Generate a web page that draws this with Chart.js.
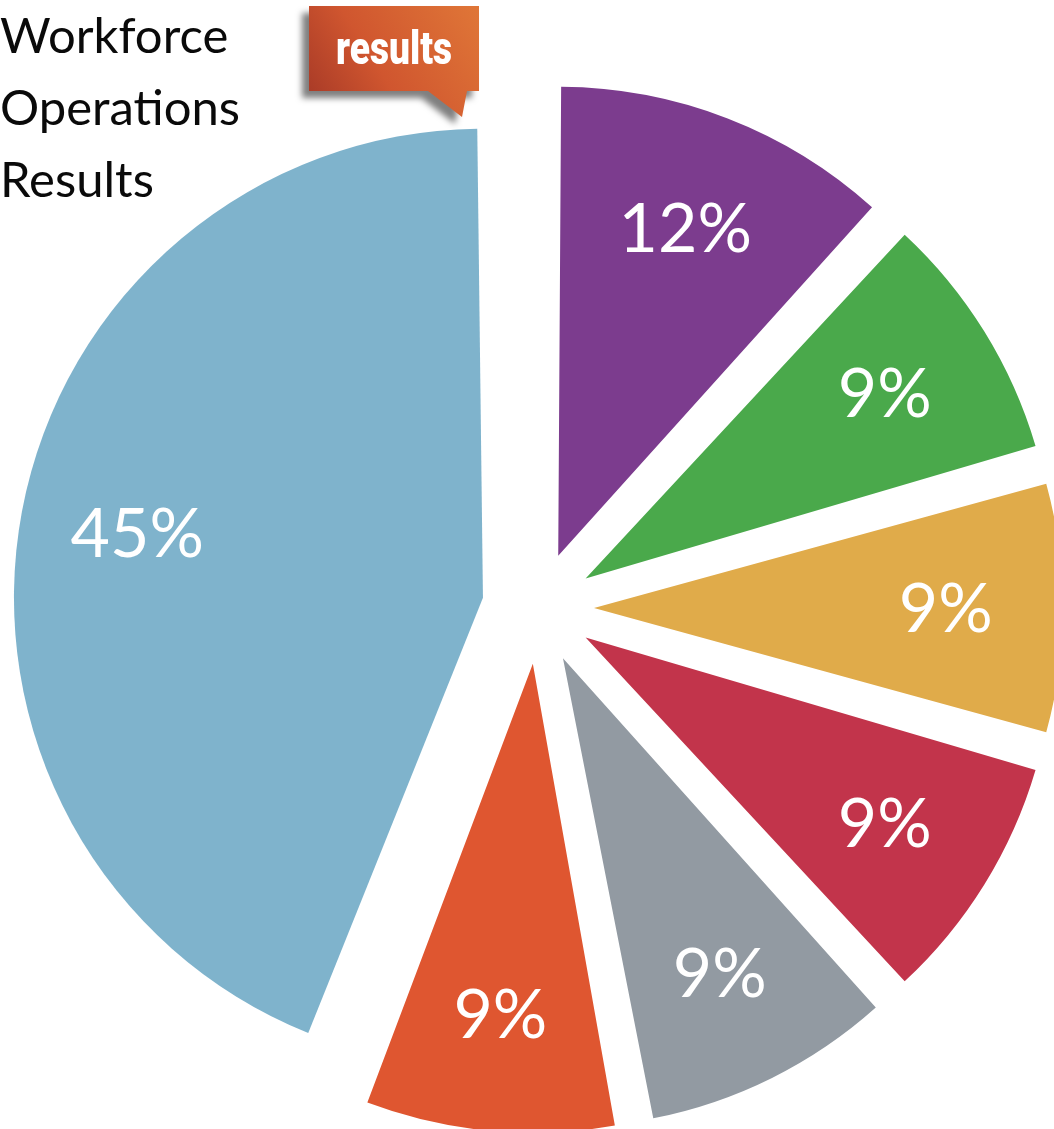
<!DOCTYPE html>
<html><head><meta charset="utf-8">
<script src="https://cdn.jsdelivr.net/npm/chart.js@4.4.1/dist/chart.umd.min.js"></script>
<style>html,body{margin:0;padding:0;background:#fff;overflow:hidden}canvas{display:block}</style>
</head><body>
<canvas id="c" width="1054" height="1129"></canvas>
<script>
// ---- data ----
const sliceLabels = ['12%', '9%', '9%', '9%', '9%', '9%', '45%'];
const sliceValues = [12, 9, 9, 9, 9, 9, 45];
const legendItems = ['Workforce', 'Operations', 'Results'];
const calloutText = 'results';

// ---- style ----
const sliceColors = ['#7c3c8e', '#4aa94b', '#e0ab4a', '#c2344b', '#929aa2', '#df5630', '#7fb3cc'];
const RADIUS = 469;
const OFFSET = 224;

// keep every exploded slice at the same visible radius
const radiusFix = {
  id: 'radiusFix',
  beforeDatasetsDraw(chart) {
    chart.getDatasetMeta(0).data.forEach(el => {
      const off = (el.options.offset || 0) / 4;
      const fix = 1 - Math.sin(Math.min(Math.PI, el.circumference || 0));
      el.outerRadius = RADIUS - off * fix;
    });
  }
};

const sliceText = {
  id: 'sliceText',
  afterDatasetsDraw(chart) {
    const ctx = chart.ctx;
    ctx.save();
    ctx.fillStyle = '#ffffff';
    ctx.font = '400 68px Lato, "Open Sans", sans-serif';
    ctx.textAlign = 'center';
    ctx.textBaseline = 'middle';
    chart.getDatasetMeta(0).data.forEach((el, i) => {
      const mid = (el.startAngle + el.endAngle) / 2;
      const d = OFFSET / 4 + 0.75 * RADIUS;
      ctx.fillText(sliceLabels[i], el.x + Math.cos(mid) * d, el.y + Math.sin(mid) * d + 2);
    });
    ctx.restore();
  }
};

const decorations = {
  id: 'decorations',
  afterDraw(chart) {
    const ctx = chart.ctx;
    ctx.save();
    // legend text
    ctx.fillStyle = '#0a0a0a';
    ctx.font = '400 49px Lato, "Open Sans", sans-serif';
    ctx.textAlign = 'left';
    ctx.textBaseline = 'alphabetic';
    legendItems.forEach((t, i) => ctx.fillText(t, 0, 53 + i * 72));

    // callout box
    ctx.save();
    ctx.shadowColor = 'rgba(0,0,0,0.5)';
    ctx.shadowOffsetX = -7;
    ctx.shadowOffsetY = 7;
    ctx.shadowBlur = 6;
    const g = ctx.createLinearGradient(309, 100, 470, 0);
    g.addColorStop(0, '#a83a27');
    g.addColorStop(0.4, '#d0562f');
    g.addColorStop(1, '#df7537');
    ctx.fillStyle = g;
    ctx.beginPath();
    ctx.moveTo(309, 6);
    ctx.lineTo(479, 6);
    ctx.lineTo(479, 91);
    ctx.lineTo(467, 91);
    ctx.lineTo(462, 117);
    ctx.lineTo(428, 91);
    ctx.lineTo(309, 91);
    ctx.closePath();
    ctx.fill();
    ctx.restore();

    ctx.fillStyle = '#ffffff';
    ctx.font = '900 47px Roboto, "DejaVu Sans", sans-serif';
    ctx.textAlign = 'left';
    const w = ctx.measureText(calloutText).width;
    const targetW = 116;
    ctx.translate(336, 64);
    ctx.scale(targetW / w, 1);
    ctx.fillText(calloutText, 0, 0);
    ctx.restore();
  }
};

new Chart(document.getElementById('c'), {
  type: 'pie',
  data: {
    labels: sliceLabels,
    datasets: [{
      data: sliceValues,
      backgroundColor: sliceColors,
      borderWidth: 0,
      offset: OFFSET,
      hoverOffset: 0,
      radius: RADIUS
    }]
  },
  options: {
    responsive: false,
    animation: false,
    events: [],
    layout: { padding: { left: 22, right: 0, top: 87, bottom: 0 } },
    plugins: { legend: { display: false }, tooltip: { enabled: false }, title: { display: false } }
  },
  plugins: [radiusFix, sliceText, decorations]
});
</script>
</body></html>
